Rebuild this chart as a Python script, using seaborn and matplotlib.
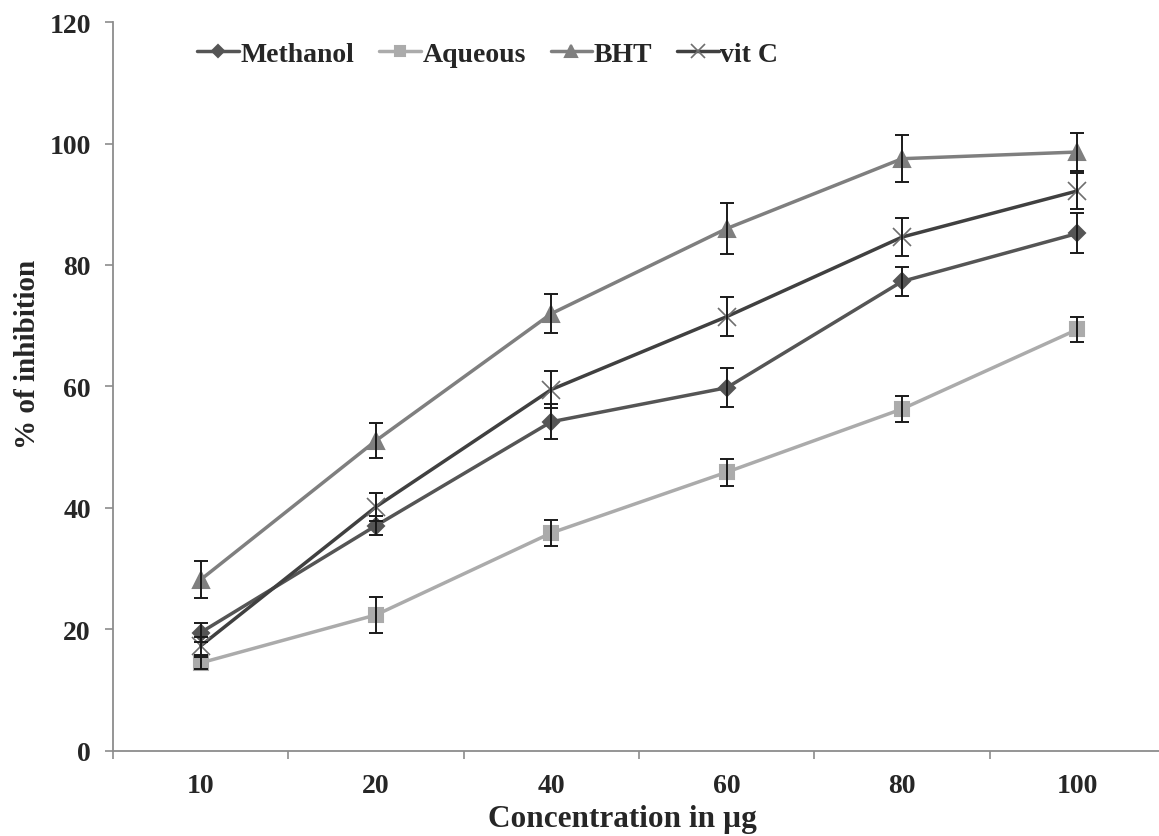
import seaborn as sns
import matplotlib.pyplot as plt
import numpy as np
import pandas as pd

# data
concentrations = ['10', '20', '40', '60', '80', '100']
methanol = [19.5, 37.1, 54.2, 59.8, 77.3, 85.2]
methanol_err = [1.5, 1.6, 2.9, 3.2, 2.4, 3.3]
aqueous = [14.5, 22.4, 35.9, 45.9, 56.3, 69.4]
aqueous_err = [1.0, 3.0, 2.1, 2.2, 2.1, 2.0]
bht = [28.2, 51.1, 72.0, 86.0, 97.5, 98.6]
bht_err = [3.0, 2.9, 3.2, 4.2, 3.9, 3.1]
vitc = [17.3, 40.2, 59.5, 71.5, 84.6, 92.2]
vitc_err = [1.5, 2.3, 3.0, 3.2, 3.2, 3.0]

series_names = ['Methanol', 'Aqueous', 'BHT', 'vit C']
series_vals = [methanol, aqueous, bht, vitc]
series_errs = [methanol_err, aqueous_err, bht_err, vitc_err]
colors = {'Methanol': '#555555', 'Aqueous': '#ababab', 'BHT': '#7f7f7f', 'vit C': '#404040'}
markers = {'Methanol': 'D', 'Aqueous': 's', 'BHT': '^', 'vit C': 'x'}
msizes = {'Methanol': 8, 'Aqueous': 10, 'BHT': 11, 'vit C': 13}
medge = {'Methanol': '#555555', 'Aqueous': '#ababab', 'BHT': '#7f7f7f', 'vit C': '#6e6e6e'}
mew = {'Methanol': 1.5, 'Aqueous': 1.5, 'BHT': 1.5, 'vit C': 1.2}

pos = np.arange(len(concentrations))

sns.set_style('white')
plt.rcParams['font.family'] = ['Liberation Serif', 'DejaVu Serif']
plt.rcParams['font.weight'] = 'bold'

fig = plt.figure(figsize=(11.59, 8.37), dpi=100)
ax = fig.add_axes([0.0975, 0.1016, 0.9025, 0.8709])

handles = []
for name, vals, errs in zip(series_names, series_vals, series_errs):
    df = pd.DataFrame({'pos': pos, 'value': vals})
    sns.lineplot(data=df, x='pos', y='value', color=colors[name],
                 marker=markers[name], markersize=msizes[name],
                 markeredgecolor=medge[name], markeredgewidth=mew[name],
                 linewidth=2.5, ax=ax, zorder=2)
    ax.errorbar(pos, vals, yerr=errs, fmt='none', ecolor='#1a1a1a',
                elinewidth=1.4, capsize=5, capthick=1.4, zorder=4)
    h, = ax.plot([], [], color=colors[name], marker=markers[name], lw=2.5,
                 markersize=msizes[name] * 0.75, markeredgecolor=medge[name],
                 markeredgewidth=mew[name])
    handles.append(h)

ax.legend(handles, series_names, loc='upper left', bbox_to_anchor=(0.062, 1.0),
          ncol=4, frameon=False, handlelength=1.5,
          handletextpad=0.05, columnspacing=0.9, borderaxespad=0.3,
          prop={'weight': 'bold', 'size': 20})

ax.set_ylim(0, 120)
ax.set_yticks(np.arange(0, 121, 20))
ax.set_xlim(-0.5, 5.465)
ax.set_xticks(pos)
ax.set_xticklabels(concentrations)
ax.set_xticks(np.arange(-0.5, 5.0, 1.0), minor=True)

for s in ['top', 'right']:
    ax.spines[s].set_visible(False)
for s in ['left', 'bottom']:
    ax.spines[s].set_color('#8c8c8c')
    ax.spines[s].set_linewidth(1.3)

ax.tick_params(axis='y', which='major', direction='out', length=6, width=1.2,
               color='#8c8c8c', labelsize=20, pad=10, left=True)
ax.tick_params(axis='x', which='major', length=0, labelsize=20, pad=16)
ax.tick_params(axis='x', which='minor', direction='out', length=6, width=1.2,
               color='#8c8c8c', bottom=True)
for lbl in ax.get_xticklabels() + ax.get_yticklabels():
    lbl.set_fontweight('bold')

ax.set_xlabel('Concentration in µg', fontsize=22.5, fontweight='bold')
ax.set_ylabel('% of inhibition', fontsize=21, fontweight='bold')
ax.xaxis.label.set_va('center')
ax.yaxis.label.set_va('center')
ax.xaxis.set_label_coords(0.487, -0.092)
ax.yaxis.set_label_coords(-0.082, 0.546)

plt.savefig('out.png', dpi=100)
plt.close()
